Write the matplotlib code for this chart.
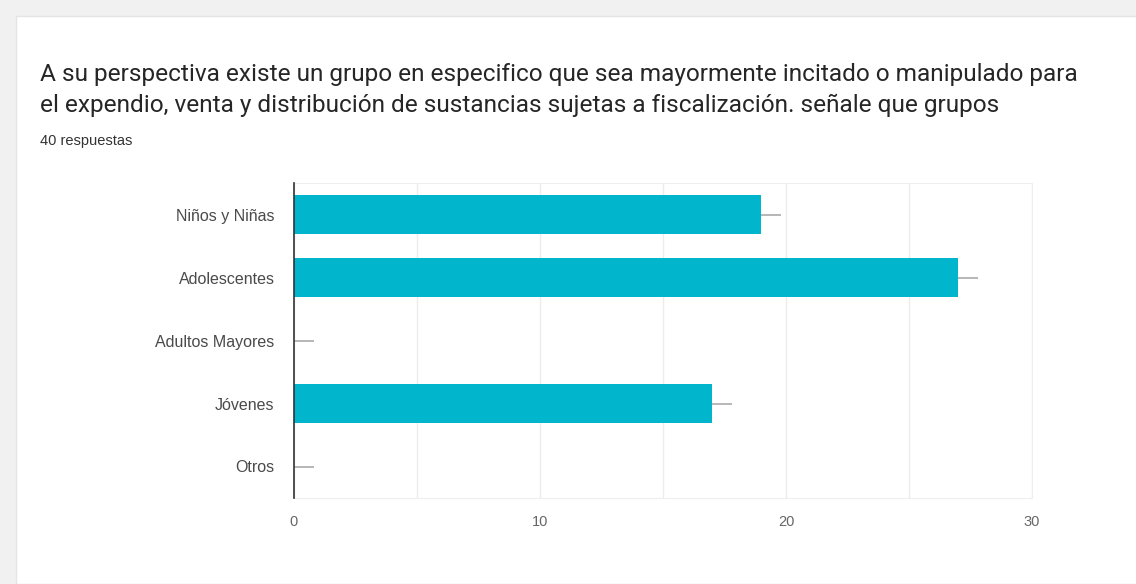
import matplotlib.pyplot as plt
from matplotlib.patches import Rectangle

# survey answers (multiple choice)
groups = ['Niños y Niñas', 'Adolescentes', 'Adultos Mayores', 'Jóvenes', 'Otros']
counts = [19, 27, 0, 17, 0]
xticks = [0, 10, 20, 30]

title_lines = ['A su perspectiva existe un grupo en especifico que sea mayormente incitado o manipulado para',
               'el expendio, venta y distribución de sustancias sujetas a fiscalización. señale que grupos']
subtitle = '40 respuestas'

plt.rcParams['font.family'] = ['Roboto', 'DejaVu Sans']

fig = plt.figure(figsize=(11.36, 5.84), dpi=100)
fig.patch.set_facecolor('#f1f1f1')
# white card
fig.add_artist(Rectangle((16 / 1136, 0), 1, 1 - 16 / 584, transform=fig.transFigure,
                         facecolor='white', edgecolor='#e4e4e4', lw=1, zorder=0))

fig.text(40 / 1136, 1 - 81 / 584, title_lines[0], fontsize=17.6, color='#262626', va='baseline')
fig.text(40 / 1136, 1 - 112 / 584, title_lines[1], fontsize=17.6, color='#262626', va='baseline')
fig.text(40 / 1136, 1 - 145 / 584, subtitle, fontsize=10.5, color='#333333',
         family=['Liberation Sans', 'DejaVu Sans'], va='baseline')

ax = fig.add_axes([294 / 1136, 1 - 498 / 584, (1032 - 294) / 1136, (498 - 183) / 584])
ypos = list(range(len(groups)))
ax.barh(ypos, counts, height=0.61, color='#00b5cc', zorder=3)
# small tick stubs at the bar ends
ax.hlines(ypos, counts, [c + 0.8 for c in counts], color='#aaaaaa', lw=1.2, zorder=4)

ax.set_ylim(len(groups) - 0.5, -0.5)
ax.set_xlim(0, 30)
ax.set_yticks(ypos)
ax.set_yticklabels(groups, family=['Liberation Sans', 'DejaVu Sans'])
ax.set_xticks(xticks)
ax.set_xticklabels([str(t) for t in xticks], family=['Liberation Sans', 'DejaVu Sans'])
ax.set_xticks([5, 15, 25], minor=True)
ax.tick_params(axis='both', which='both', length=0, labelsize=11.5, labelcolor='#4a4a4a')
ax.tick_params(axis='x', labelsize=10.5, labelcolor='#666666', pad=12)
ax.tick_params(axis='y', pad=14)
ax.grid(axis='x', which='both', color='#ececec', lw=1, zorder=0)
for s in ['top', 'right', 'bottom']:
    ax.spines[s].set_color('#eeeeee')
ax.spines['left'].set_color('#333333')
ax.spines['left'].set_linewidth(1.2)
ax.spines['left'].set_zorder(5)

fig.savefig('out.png', dpi=100, facecolor=fig.get_facecolor())
